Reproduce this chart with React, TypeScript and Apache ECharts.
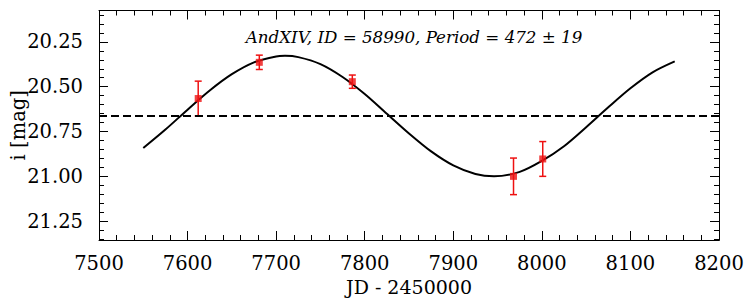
import React, { useEffect, useRef } from "react";
import * as echarts from "echarts";

// Fitted sinusoid
const curveJD = [7550, 7575, 7600, 7625, 7650, 7675, 7700, 7710, 7725, 7750, 7775, 7800, 7825, 7850, 7875, 7900, 7925, 7946, 7975, 8000, 8025, 8050, 8075, 8100, 8125, 8150];
const curveMag = [20.842, 20.739, 20.628, 20.521, 20.43, 20.364, 20.331, 20.328, 20.335, 20.374, 20.446, 20.541, 20.651, 20.761, 20.861, 20.939, 20.987, 21.0, 20.975, 20.914, 20.832, 20.726, 20.615, 20.509, 20.42, 20.359];

// Observations
const obsJD = [7612, 7681, 7786, 7968, 8001];
const obsMag = [20.566, 20.364, 20.472, 21.0, 20.903];
const obsErr = [0.097, 0.04, 0.037, 0.102, 0.097];

const meanMag = 20.66;

const yMajor = [20.25, 20.5, 20.75, 21.0, 21.25];
const yMinor = [20.1, 20.15, 20.2, 20.3, 20.35, 20.4, 20.45, 20.55, 20.6, 20.65, 20.7, 20.8, 20.85, 20.9, 20.95, 21.05, 21.1, 21.15, 21.2, 21.3, 21.35];

const titleText = "AndXIV, ID = 58990, Period = 472 ± 19";
const xName = "JD - 2450000";
const yName = "i [mag]";

const FONT = "DejaVu Serif";
const TICK_FS = 19.5;

export default function App() {
  const ref = useRef<HTMLDivElement>(null);
  useEffect(() => {
    if (!ref.current) return;
    const chart = echarts.init(ref.current, undefined, { renderer: "svg" });
    const yMin = 20.075;
    const yMax = 21.355;
    const baseY = (pos: string, major: boolean, labels: boolean) => ({
      type: "value",
      position: pos,
      min: yMin,
      max: yMax,
      inverse: true,
      axisLine: { show: true, onZero: false, lineStyle: { color: "#000", width: 1 } },
      axisTick: { show: true, inside: true, length: major ? 9 : 5, customValues: major ? yMajor : yMinor, lineStyle: { color: "#000", width: 1 } },
      axisLabel: labels
        ? { show: true, customValues: yMajor, formatter: (v: number) => v.toFixed(2), fontFamily: FONT, fontSize: TICK_FS, color: "#000", margin: 16 }
        : { show: false },
      splitLine: { show: false },
    });
    const baseX = (pos: string, labels: boolean) => ({
      type: "value",
      position: pos,
      min: 7500,
      max: 8200,
      interval: 100,
      axisLine: { show: true, onZero: false, lineStyle: { color: "#000", width: 1 } },
      axisTick: { show: true, inside: true, length: 9, lineStyle: { color: "#000", width: 1 } },
      minorTick: { show: true, splitNumber: 5, length: 5, lineStyle: { color: "#000", width: 1 } },
      axisLabel: labels
        ? { show: true, formatter: (v: number) => String(v), fontFamily: FONT, fontSize: TICK_FS, color: "#000", margin: 13 }
        : { show: false },
      splitLine: { show: false },
      minorSplitLine: { show: false },
    });
    const xAxes: any[] = [
      { ...baseX("bottom", true), name: xName, nameLocation: "middle", nameGap: 37, nameMoveOverlap: false, nameTextStyle: { fontFamily: FONT, fontSize: 19, color: "#000" } },
      baseX("top", false),
    ];
    const yAxes: any[] = [
      { ...baseY("left", true, true), name: yName, nameLocation: "middle", nameGap: 71, nameMoveOverlap: false, nameTextStyle: { fontFamily: FONT, fontSize: 19.5, color: "#000" } },
      baseY("left", false, false),
      baseY("right", true, false),
      baseY("right", false, false),
    ];
    chart.setOption({
      animation: false,
      backgroundColor: "#fff",
      grid: { left: 99, right: 33, top: 10.5, bottom: 66, containLabel: false, outerBoundsMode: "none" },
      title: {
        text: titleText,
        left: 409,
        top: 23,
        textAlign: "center",
        textStyle: { fontFamily: FONT, fontStyle: "italic", fontWeight: "normal", fontSize: 16.7, color: "#000" },
      },
      xAxis: xAxes,
      yAxis: yAxes,
      series: [
        {
          type: "line",
          data: curveJD.map((x, i) => [x, curveMag[i]]),
          smooth: 0.3,
          showSymbol: false,
          symbol: "none",
          lineStyle: { color: "#000", width: 2 },
          z: 3,
          markLine: {
            silent: true,
            symbol: ["none", "none"],
            label: { show: false },
            lineStyle: { color: "#000", width: 2, type: [8, 4] },
            data: [{ yAxis: meanMag }],
          },
        },
        {
          type: "custom",
          data: obsJD.map((x, i) => [x, obsMag[i], obsErr[i]]),
          renderItem: (params: any, api: any) => {
            const x = api.value(0);
            const y = api.value(1);
            const e = api.value(2);
            const top = api.coord([x, y - e]);
            const bot = api.coord([x, y + e]);
            const style = { stroke: "#ee1111", lineWidth: 1.5 };
            const cap = 3.5;
            return {
              type: "group",
              children: [
                { type: "line", shape: { x1: top[0], y1: top[1], x2: bot[0], y2: bot[1] }, style },
                { type: "line", shape: { x1: top[0] - cap, y1: top[1], x2: top[0] + cap, y2: top[1] }, style },
                { type: "line", shape: { x1: bot[0] - cap, y1: bot[1], x2: bot[0] + cap, y2: bot[1] }, style },
              ],
            };
          },
          z: 4,
        },
        {
          type: "scatter",
          data: obsJD.map((x, i) => [x, obsMag[i]]),
          symbol: "rect",
          symbolSize: 7,
          itemStyle: { color: "#ee1111" },
          z: 5,
        },
      ],
    });
    return () => chart.dispose();
  }, []);
  return <div ref={ref} style={{ width: 752, height: 306, margin: -8 }} />;
}
